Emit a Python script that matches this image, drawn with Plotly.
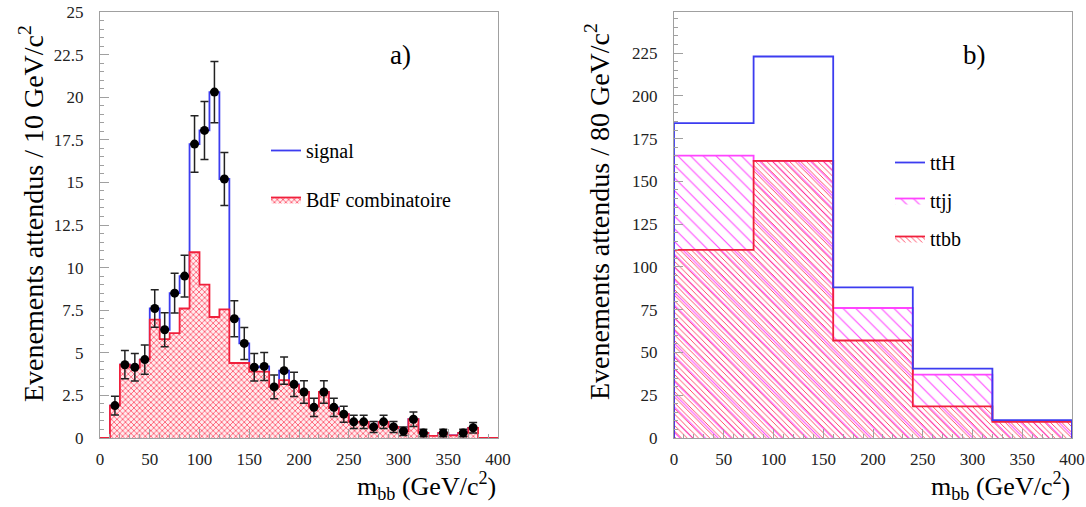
import plotly.graph_objects as go

# the page's body margin is removed by a small post-script, so no offset
OFF = 0
W, H = 1086 - OFF, 507 - OFF

# ---------------- panel a) : 10 GeV bins ----------------
edges_a = list(range(0, 410, 10))  # 0..400
background = [0, 1.9, 4.3, 4.15, 4.6, 6.95, 5.8, 6.15, 7.6, 10.9,
              9.0, 7.1, 7.55, 4.4, 4.4, 3.9, 3.9, 3.0, 3.4, 3.1,
              2.7, 1.85, 2.7, 1.75, 1.4, 0.95, 0.95, 0.65, 0.95, 0.65,
              0.4, 1.1, 0.3, 0.12, 0.3, 0.15, 0.3, 0.6, 0, 0]
signal = [0, 0, 0, 0, 0, 0.65, 0.55, 2.35, 1.9, 6.35,
          9.05, 13.2, 7.65, 2.6, 1.15, 0.25, 0.3, 0, 0.55, 0.05,
          0, 0, 0, 0.05, 0, 0, 0, 0, 0, 0,
          0, 0, 0, 0, 0, 0, 0, 0, 0, 0]
data_x = [15, 25, 35, 45, 55, 65, 75, 85, 95, 105, 115, 125, 135, 145, 155,
          165, 175, 185, 195, 205, 215, 225, 235, 245, 255, 265, 275, 285,
          295, 305, 315, 325, 345, 365, 375]
data_y = [1.9, 4.3, 4.15, 4.6, 7.6, 6.35, 8.5, 9.5, 17.25, 18.05, 20.3, 15.2,
          7.0, 5.55, 4.15, 4.2, 3.0, 3.95, 3.15, 2.7, 1.8, 2.7, 1.8, 1.4,
          0.95, 0.95, 0.65, 0.95, 0.65, 0.4, 1.1, 0.3, 0.3, 0.3, 0.6]
data_err = [0.55, 0.83, 0.81, 0.86, 1.1, 1.0, 1.17, 1.23, 1.66, 1.7, 1.8, 1.56,
            1.06, 0.94, 0.81, 0.82, 0.69, 0.8, 0.71, 0.66, 0.54, 0.66, 0.54,
            0.47, 0.39, 0.39, 0.32, 0.39, 0.32, 0.25, 0.42, 0.22, 0.22, 0.22,
            0.31]
yticks_a = [0, 2.5, 5, 7.5, 10, 12.5, 15, 17.5, 20, 22.5, 25]
yticklabels_a = ["0", "2.5", "5", "7.5", "10", "12.5", "15", "17.5", "20", "22.5", "25"]

# ---------------- panel b) : 80 GeV bins ----------------
edges_b = [0, 80, 160, 240, 320, 400]
ttbb = [110, 162, 57, 18.5, 9.5]
ttjj = [55, 0, 19, 18.5, 0.5]
ttH = [19, 61, 12, 3.5, 0.5]
yticks_b = [0, 25, 50, 75, 100, 125, 150, 175, 200, 225]
xticks = [0, 50, 100, 150, 200, 250, 300, 350, 400]


def step(edges, vals):
    xs = [edges[0]] + list(edges[:-1]) + [edges[-1], edges[-1]]
    ys = [0] + list(vals) + [vals[-1], 0]
    return xs, ys


def px(x):
    return (x - OFF) / W


def py(y):
    return (H - (y - OFF)) / H


BLUE = "#3c3cf0"
RED = "#f0203c"
MAG = "#ff44ff"
SERIF = "Liberation Serif, Times New Roman, serif"

fig = go.Figure()

# left panel
total_a = [b + s for b, s in zip(background, signal)]
xs, ys = step(edges_a, total_a)
fig.add_trace(go.Scatter(
    x=xs, y=ys, mode="lines", line=dict(color=BLUE, width=1.8, shape="hv"),
    name="signal", legend="legend", legendgroup="sig", legendrank=1,
    xaxis="x", yaxis="y"))
xs, ys = step(edges_a, background)
fig.add_trace(go.Scatter(
    x=xs, y=ys, mode="lines", line=dict(color=RED, width=1.8, shape="hv"),
    fill="tozeroy", fillcolor="rgba(255,255,255,0)",
    fillpattern=dict(shape="x", fgcolor="#ff5c72", bgcolor="rgba(255,236,238,1)",
                     size=4, solidity=0.4),
    name="BdF combinatoire", legend="legend", legendgroup="bdf", legendrank=2,
    xaxis="x", yaxis="y"))
fig.add_trace(go.Scatter(
    x=data_x, y=data_y, mode="markers",
    marker=dict(color="black", size=9),
    error_y=dict(type="data", array=data_err, color="#222", thickness=1.5, width=4),
    showlegend=False, xaxis="x", yaxis="y"))

# right panel
stack_jj = [b + j for b, j in zip(ttbb, ttjj)]
stack_h = [s + h for s, h in zip(stack_jj, ttH)]
xs, ys = step(edges_b, stack_jj)
fig.add_trace(go.Scatter(
    x=xs, y=ys, mode="lines", line=dict(color=MAG, width=1.8, shape="hv"),
    fill="tozeroy", fillcolor="rgba(255,255,255,0)",
    fillpattern=dict(shape="\\", fgcolor=MAG, size=9, solidity=0.12),
    name="ttjj", legend="legend2", legendgroup="jj", legendrank=2,
    xaxis="x2", yaxis="y2"))
xs, ys = step(edges_b, ttbb)
fig.add_trace(go.Scatter(
    x=xs, y=ys, mode="lines", line=dict(color=RED, width=1.8, shape="hv"),
    fill="tozeroy", fillcolor="rgba(255,255,255,0)",
    fillpattern=dict(shape="\\", fgcolor="#ff3a58", size=4, solidity=0.22),
    name="ttbb", legend="legend2", legendgroup="bb", legendrank=3,
    xaxis="x2", yaxis="y2"))
xs, ys = step(edges_b, stack_h)
fig.add_trace(go.Scatter(
    x=xs, y=ys, mode="lines", line=dict(color=BLUE, width=1.8, shape="hv"),
    name="ttH", legend="legend2", legendgroup="h", legendrank=1,
    xaxis="x2", yaxis="y2"))

axis_common = dict(
    showline=True, mirror=True, linecolor="#a0a0a0", linewidth=1,
    ticks="inside", tickcolor="#a0a0a0", ticklen=9, showgrid=False,
    zeroline=False, automargin=False, ticklabeloverflow="allow",
    tickfont=dict(family=SERIF, size=17, color="#222"),
)

fig.update_layout(
    template="none",
    width=W, height=H, margin=dict(l=0, r=0, t=0, b=0),
    paper_bgcolor="white", plot_bgcolor="white",
    font=dict(family=SERIF, color="black"),
    xaxis=dict(domain=[px(100), px(498)], range=[0, 400], tickvals=xticks,
               minor=dict(dtick=10, ticks="inside", ticklen=4, tickcolor="#a0a0a0"),
               ticklabelstandoff=6, anchor="y", **axis_common),
    yaxis=dict(domain=[py(438), py(12)], range=[0, 25], tickvals=yticks_a,
               ticktext=yticklabels_a,
               minor=dict(dtick=0.5, ticks="inside", ticklen=4, tickcolor="#a0a0a0"),
               ticklabelstandoff=12, anchor="x", **axis_common),
    xaxis2=dict(domain=[px(674), px(1072)], range=[0, 400], tickvals=xticks,
                minor=dict(dtick=10, ticks="inside", ticklen=4, tickcolor="#a0a0a0"),
                ticklabelstandoff=6, anchor="y2", **axis_common),
    yaxis2=dict(domain=[py(438), py(12)], range=[0, 249], tickvals=yticks_b,
                minor=dict(dtick=5, ticks="inside", ticklen=4, tickcolor="#a0a0a0"),
                ticklabelstandoff=12, anchor="x2", **axis_common),
    legend=dict(x=px(266), y=py(131), xanchor="left", yanchor="top",
                bgcolor="rgba(0,0,0,0)", borderwidth=0, font=dict(family=SERIF, size=20),
                tracegroupgap=20, itemwidth=30, traceorder="grouped"),
    legend2=dict(x=px(890), y=py(143), xanchor="left", yanchor="top",
                 bgcolor="rgba(0,0,0,0)", borderwidth=0, font=dict(family=SERIF, size=20),
                 tracegroupgap=9, itemwidth=30, traceorder="grouped"),
    showlegend=True,
)

ann = []
ann.append(dict(text="a)", x=px(400), y=py(55), xref="paper", yref="paper",
                showarrow=False, font=dict(family=SERIF, size=27), xanchor="center", yanchor="middle"))
ann.append(dict(text="b)", x=px(974), y=py(55), xref="paper", yref="paper",
                showarrow=False, font=dict(family=SERIF, size=27), xanchor="center", yanchor="middle"))
ann.append(dict(text="Evenements attendus / 10 GeV/c<sup>2</sup>", x=px(31), y=py(214),
                xref="paper", yref="paper", textangle=-90, showarrow=False,
                font=dict(family=SERIF, size=28), xanchor="center", yanchor="middle"))
ann.append(dict(text="Evenements attendus / 80 GeV/c<sup>2</sup>", x=px(597), y=py(212),
                xref="paper", yref="paper", textangle=-90, showarrow=False,
                font=dict(family=SERIF, size=28), xanchor="center", yanchor="middle"))
for xr in (498, 1072):
    ann.append(dict(text="m<sub>bb</sub> (GeV/c<sup>2</sup>)", x=px(xr), y=py(486),
                    xref="paper", yref="paper", showarrow=False,
                    font=dict(family=SERIF, size=26), xanchor="right", yanchor="middle"))
fig.update_layout(annotations=ann)

fig.write_html("out.html",
               config={"displayModeBar": False},
               post_script="document.body.style.margin='0px';"
                           "document.body.style.overflow='hidden';")
